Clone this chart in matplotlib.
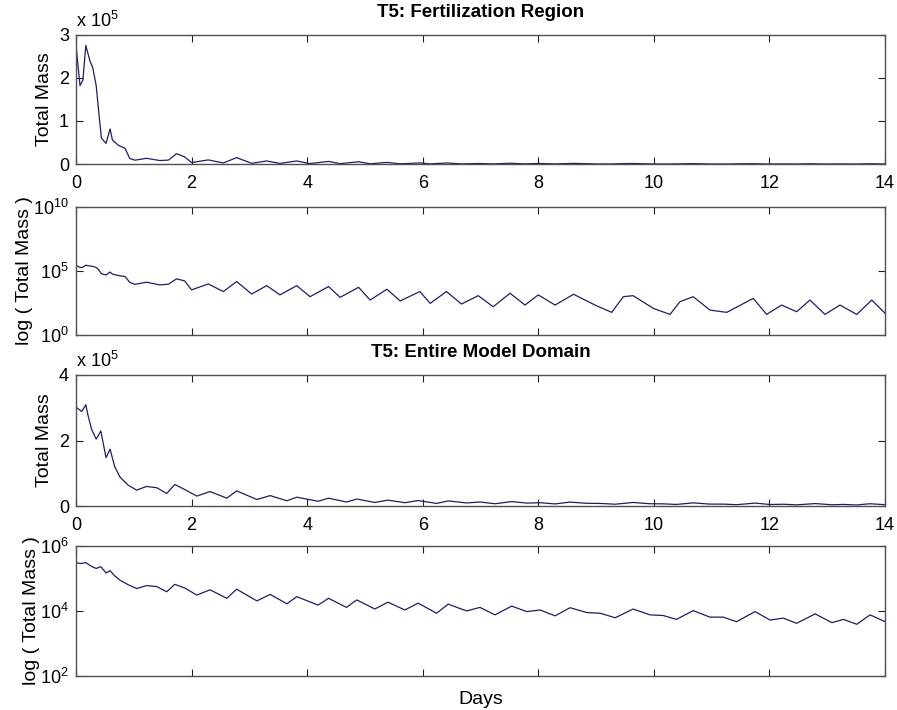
import numpy as np
import matplotlib
matplotlib.use("Agg")
import matplotlib.pyplot as plt
from matplotlib.ticker import FixedLocator, NullLocator, FuncFormatter

plt.rcParams['font.family'] = ['Liberation Sans', 'DejaVu Sans']
plt.rcParams['mathtext.fontset'] = 'custom'
plt.rcParams['mathtext.rm'] = 'Liberation Sans'
plt.rcParams['mathtext.it'] = 'Liberation Sans'

line_color = "#1e1e66"
spine_color = "#505050"

# T5 fertilization region (log10 of total mass)
fert_days = [0.00, 0.07, 0.12, 0.17, 0.24, 0.29, 0.35, 0.39, 0.44, 0.52, 0.59, 0.63,
             0.73, 0.85, 0.93, 1.02, 1.22, 1.45, 1.60, 1.74, 1.88, 2.00, 2.29, 2.55,
             2.78, 3.04, 3.30, 3.53, 3.82, 4.05, 4.37, 4.57, 4.89, 5.09, 5.38, 5.61,
             5.95, 6.13, 6.41, 6.67, 6.96, 7.22, 7.51, 7.77, 8.00, 8.29, 8.61, 8.98,
             9.27, 9.47, 9.64, 9.99, 10.28, 10.45, 10.68, 10.97, 11.26, 11.72, 11.95,
             12.21, 12.47, 12.70, 12.96, 13.22, 13.51, 13.77, 14.00]
fert_log = [5.44, 5.26, 5.29, 5.44, 5.38, 5.35, 5.26, 5.10, 4.78, 4.68, 4.91, 4.75,
            4.64, 4.56, 4.11, 3.95, 4.12, 3.91, 3.96, 4.38, 4.22, 3.52, 3.98, 3.39,
            4.17, 3.20, 3.85, 3.13, 3.85, 2.99, 3.78, 2.94, 3.72, 2.73, 3.57, 2.66,
            3.39, 2.47, 3.39, 2.42, 3.07, 2.21, 3.26, 2.34, 3.13, 2.34, 3.18, 2.34,
            1.77, 2.99, 3.07, 2.08, 1.61, 2.60, 2.99, 1.95, 1.77, 2.86, 1.61,
            2.34, 1.82, 2.73, 1.61, 2.34, 1.61, 2.73, 1.70]

# T5 entire model domain (log10 of total mass)
dom_days = [0.00, 0.10, 0.17, 0.21, 0.27, 0.35, 0.43, 0.52, 0.59, 0.67, 0.76, 0.90,
            1.05, 1.22, 1.40, 1.57, 1.71, 1.89, 2.09, 2.32, 2.61, 2.78, 3.13, 3.36,
            3.65, 3.82, 4.19, 4.37, 4.68, 4.86, 5.17, 5.40, 5.69, 5.92, 6.24, 6.44,
            6.76, 6.99, 7.25, 7.54, 7.80, 8.03, 8.29, 8.55, 8.84, 9.07, 9.33, 9.64,
            9.93, 10.16, 10.39, 10.68, 10.97, 11.20, 11.43, 11.75, 12.01, 12.24,
            12.47, 12.79, 13.08, 13.28, 13.51, 13.74, 14.00]
dom_log = [5.48, 5.46, 5.49, 5.44, 5.37, 5.31, 5.36, 5.17, 5.24, 5.08, 4.95, 4.81,
           4.69, 4.78, 4.75, 4.59, 4.82, 4.70, 4.49, 4.65, 4.39, 4.67, 4.31, 4.51,
           4.22, 4.44, 4.18, 4.39, 4.11, 4.34, 4.06, 4.27, 4.03, 4.24, 3.93, 4.21,
           4.00, 4.11, 3.88, 4.15, 3.98, 4.03, 3.85, 4.10, 3.95, 3.93, 3.79, 4.06,
           3.88, 3.86, 3.74, 4.01, 3.81, 3.81, 3.67, 3.98, 3.72, 3.78,
           3.62, 3.91, 3.64, 3.74, 3.59, 3.88, 3.67]

day_ticks = [0, 2, 4, 6, 8, 10, 12, 14]


def pow10(v, pos):
    return r"$10^{%d}$" % int(round(np.log10(v)))


def style(ax, show_xlabels):
    ax.set_xlim(0, 14)
    ax.set_xticks(day_ticks)
    if not show_xlabels:
        ax.set_xticklabels([])
    ax.tick_params(direction="in", top=True, right=True, length=5, width=0.8,
                   labelsize=13, color="#202020", pad=5)
    ax.tick_params(axis="x", pad=8)
    ax.tick_params(which="minor", length=0)
    for s in ax.spines.values():
        s.set_color(spine_color)
        s.set_linewidth(1.0)


def linear_panel(ax, days, logs, top, ticks, title):
    mass = 10 ** np.array(logs) / 1e5
    ax.plot(days, mass, color=line_color, lw=0.9)
    ax.set_ylim(0, top)
    ax.set_yticks(ticks)
    ax.set_ylabel("Total Mass", fontsize=14, labelpad=4)
    ax.set_title(title, fontsize=13.5, fontweight="bold", pad=13)
    ax.text(0.0, 1.03, r"x 10$^{5}$", transform=ax.transAxes, fontsize=13,
            ha="left", va="bottom")
    style(ax, True)


def log_panel(ax, days, logs, lo, hi, ticks):
    ax.semilogy(days, 10 ** np.array(logs), color=line_color, lw=0.9)
    ax.set_ylim(lo, hi)
    ax.yaxis.set_major_locator(FixedLocator(ticks))
    ax.yaxis.set_minor_locator(NullLocator())
    ax.yaxis.set_major_formatter(FuncFormatter(pow10))
    ax.set_ylabel("log ( Total Mass )", fontsize=14, labelpad=0)
    style(ax, False)


fig = plt.figure(figsize=(8.97, 7.10), dpi=100)
left, width = 0.0847, 0.902
ax1 = fig.add_axes([left, 0.769, width, 0.182])
ax2 = fig.add_axes([left, 0.528, width, 0.181])
ax3 = fig.add_axes([left, 0.287, width, 0.185])
ax4 = fig.add_axes([left, 0.048, width, 0.183])

linear_panel(ax1, fert_days, fert_log, 3, [0, 1, 2, 3], "T5: Fertilization Region")
log_panel(ax2, fert_days, fert_log, 1, 1e10, [1, 1e5, 1e10])
linear_panel(ax3, dom_days, dom_log, 4, [0, 2, 4], "T5: Entire Model Domain")
log_panel(ax4, dom_days, dom_log, 1e2, 1e6, [1e2, 1e4, 1e6])

ax4.set_xlabel("Days", fontsize=14, labelpad=3)

fig.savefig("out.png", dpi=100, facecolor="white")
